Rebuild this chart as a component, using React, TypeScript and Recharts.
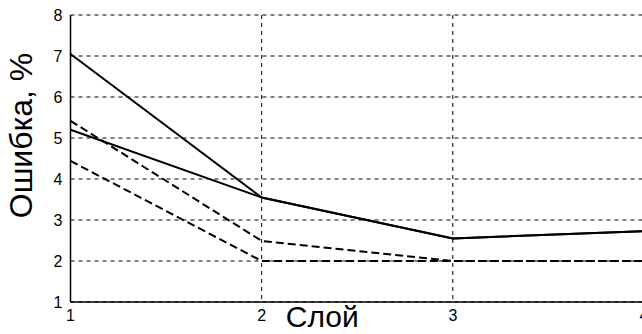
import React from "react"
import { CartesianGrid, Label, Line, LineChart, XAxis, YAxis } from "recharts"

// Слой (layer) numbers on the x axis
const layers = [1, 2, 3, 4]
// error, % for each curve
const solidUpper = [7.05, 3.55, 2.55, 2.73]
const solidLower = [5.2, 3.55, 2.55, 2.73]
const dashedUpper = [5.42, 2.49, 2.0, 2.0]
const dashedLower = [4.44, 2.0, 2.0, 2.0]
const yTicks = [1, 2, 3, 4, 5, 6, 7, 8]

const data = layers.map((layer, i) => ({
    layer,
    s1: solidUpper[i],
    s2: solidLower[i],
    d1: dashedUpper[i],
    d2: dashedLower[i],
}))

const FONT = "Arial, 'Liberation Sans', sans-serif"

export default function App() {
    return (
        <div style={{ position: "absolute", left: 0, top: 0, width: 642, height: 334, overflow: "hidden", background: "#fff" }}>
            <LineChart
                width={700}
                height={334}
                data={data}
                margin={{ top: 15, right: 56, left: 0, bottom: 0 }}
                style={{ fontFamily: FONT }}
            >
                <CartesianGrid stroke="#000" strokeDasharray="4 4" strokeWidth={1} />
                <XAxis
                    dataKey="layer"
                    type="number"
                    domain={[1, 4]}
                    ticks={layers}
                    tickLine={false}
                    axisLine={{ stroke: "#000", strokeWidth: 1.5 }}
                    tick={{ fill: "#000", fontSize: 16 }}
                    height={32}
                >
                    <Label value="Слой" position="center" dx={-35} dy={-2} fill="#000" fontSize={30} />
                </XAxis>
                <XAxis
                    xAxisId="top"
                    orientation="top"
                    dataKey="layer"
                    type="number"
                    domain={[1, 4]}
                    tick={false}
                    tickLine={false}
                    axisLine={{ stroke: "#000", strokeWidth: 1.5 }}
                    height={0}
                />
                <YAxis
                    type="number"
                    domain={[1, 8]}
                    ticks={yTicks}
                    tickLine={false}
                    axisLine={{ stroke: "#000", strokeWidth: 1.5 }}
                    tick={{ fill: "#000", fontSize: 16 }}
                    width={70.5}
                >
                    <Label value="Ошибка, %" angle={-90} position="insideLeft" dx={16} dy={-23} fill="#000" fontSize={32} style={{ textAnchor: "middle" }} />
                </YAxis>
                <Line dataKey="s1" stroke="#000" strokeWidth={2} dot={false} isAnimationActive={false} />
                <Line dataKey="s2" stroke="#000" strokeWidth={2} dot={false} isAnimationActive={false} />
                <Line dataKey="d1" stroke="#000" strokeWidth={2} strokeDasharray="8 4" dot={false} isAnimationActive={false} />
                <Line dataKey="d2" stroke="#000" strokeWidth={2} strokeDasharray="8 4" dot={false} isAnimationActive={false} />
            </LineChart>
        </div>
    )
}
